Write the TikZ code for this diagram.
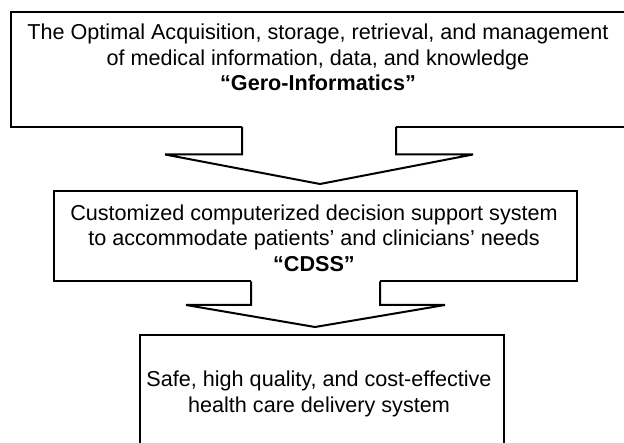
\documentclass[tikz,border=0pt]{standalone}
\usepackage{fontspec}
\setmainfont{Liberation Sans}
\begin{document}
\begin{tikzpicture}[x=1pt,y=-1pt,line width=2pt,
  txt/.style={font=\fontsize{21.6}{25.5}\selectfont, align=center, inner sep=0pt},
  outline/.style={draw=black, line width=2pt, line join=miter}]
\useasboundingbox (0,0) rectangle (624,443);
\clip (0,0) rectangle (624,443);
% key points
\coordinate (b1tl) at (11,12);
\coordinate (b1br) at (640,127);
\coordinate (a1l) at (242,127);
\coordinate (a1r) at (396,127);
\coordinate (a1tip) at (320,184);
\coordinate (b2tl) at (53.5,191.5);
\coordinate (b2br) at (576.5,281.5);
\coordinate (a2l) at (251,281.5);
\coordinate (a2r) at (380,281.5);
\coordinate (a2tip) at (315,327);
\coordinate (b3tl) at (140,335);
\coordinate (b3br) at (504,460);
% box 1 with opening for arrow
\draw[outline] (a1l) -- (a1l -| b1tl) -- (b1tl) -- (b1tl -| b1br) -- (b1br) -- (a1r);
% arrow 1
\draw[outline] (a1l) -- (242,154.5) -- (165,154.5) -- (a1tip) -- (473,154.5) -- (396,154.5) -- (a1r);
% box 2 with opening
\draw[outline] (a2l) -- (a2l -| b2tl) -- (b2tl) -- (b2tl -| b2br) -- (b2br) -- (a2r);
% arrow 2
\draw[outline] (a2l) -- (251,305) -- (186,305) -- (a2tip) -- (445,305) -- (380,305) -- (a2r);
% box 3
\draw[outline] (b3tl |- b3br) -- (b3tl) -- (b3tl -| b3br) -- (b3br);
% texts
\node[txt] (t1) at (318,57.5) {The Optimal Acquisition, storage, retrieval, and management\\of medical information, data, and knowledge\\\textbf{“Gero-Informatics”}};
\node[txt] (t2) at (314,238) {Customized computerized decision support system\\to accommodate patients’ and clinicians’ needs\\\textbf{“CDSS”}};
\node[txt] (t3) at (319,394) {Safe, high quality, and cost-effective\\health care delivery system};
\end{tikzpicture}
\end{document}
